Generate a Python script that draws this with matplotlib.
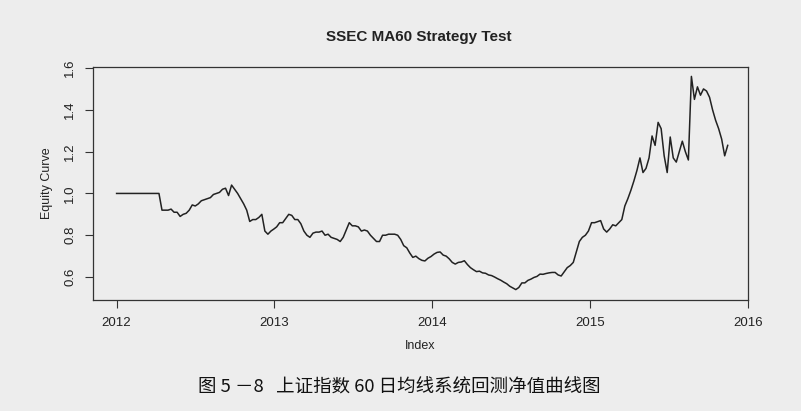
import pandas as pd
import matplotlib.pyplot as plt

# 上证指数 MA60 策略净值（周度读数）
equity = [
    1.0, 1.0, 1.0, 1.0, 1.0, 1.0, 1.0, 1.0, 1.0, 1.0,
    1.0, 1.0, 1.0, 1.0, 1.0, 0.92, 0.92, 0.92, 0.925, 0.91,
    0.91, 0.89, 0.9, 0.905, 0.92, 0.945, 0.94, 0.95, 0.965, 0.97,
    0.975, 0.98, 0.995, 1.0, 1.005, 1.02, 1.025, 0.99, 1.04, 1.02,
    1.0, 0.975, 0.95, 0.92, 0.866, 0.875, 0.875, 0.885, 0.9, 0.82,
    0.805, 0.82, 0.83, 0.84, 0.86, 0.86, 0.88, 0.9, 0.895, 0.875,
    0.875, 0.855, 0.82, 0.8, 0.79, 0.81, 0.815, 0.815, 0.82, 0.8,
    0.805, 0.79, 0.785, 0.78, 0.77, 0.79, 0.825, 0.86, 0.845, 0.845,
    0.84, 0.82, 0.825, 0.82, 0.8, 0.785, 0.77, 0.77, 0.8, 0.8,
    0.805, 0.805, 0.805, 0.8, 0.78, 0.75, 0.74, 0.715, 0.694, 0.7,
    0.688, 0.68, 0.677, 0.69, 0.698, 0.71, 0.718, 0.72, 0.705, 0.7,
    0.687, 0.67, 0.662, 0.67, 0.672, 0.678, 0.66, 0.645, 0.635, 0.626,
    0.628, 0.62, 0.618, 0.61, 0.607, 0.6, 0.592, 0.585, 0.576, 0.568,
    0.556, 0.548, 0.54, 0.55, 0.572, 0.572, 0.584, 0.59, 0.598, 0.603,
    0.614, 0.613, 0.617, 0.62, 0.622, 0.622, 0.61, 0.605, 0.625, 0.645,
    0.655, 0.67, 0.72, 0.77, 0.79, 0.8, 0.82, 0.86, 0.86, 0.865,
    0.87, 0.83, 0.815, 0.83, 0.85, 0.845, 0.86, 0.875, 0.94, 0.975,
    1.015, 1.06, 1.11, 1.17, 1.1, 1.12, 1.17, 1.275, 1.23, 1.34,
    1.31, 1.18, 1.1, 1.27, 1.17, 1.15, 1.2, 1.25, 1.2, 1.16,
    1.56, 1.45, 1.51, 1.47, 1.5, 1.49, 1.46, 1.4, 1.35, 1.31,
    1.26, 1.18, 1.23,
]
dates = pd.date_range('2012-01-01', periods=len(equity), freq='7D')
years = dates.year + (dates.dayofyear - 1) / 365.25

year_ticks = [2012, 2013, 2014, 2015, 2016]
y_ticks = [0.6, 0.8, 1.0, 1.2, 1.4, 1.6]

bg = '#ededed'
fig = plt.figure(figsize=(8.01, 4.11), dpi=100, facecolor=bg)
ax = fig.add_axes([0.116, 0.27, 0.818, 0.567], facecolor=bg)

ax.plot(years, equity, color='#222222', lw=1.1)

ax.set_xlim(2011.85, 2016.0)
ax.set_ylim(0.49, 1.605)
ax.set_xticks(year_ticks)
ax.set_yticks(y_ticks)
ax.set_xticklabels([str(y) for y in year_ticks], fontsize=9.5, family='Liberation Sans', color='#222222')
ax.set_yticklabels(['%.1f' % v for v in y_ticks], fontsize=9.5, family='Liberation Sans',
                   rotation=90, va='center', color='#222222')
ax.tick_params(direction='out', length=6, width=0.8, color='#333333', pad=6)
for s in ax.spines.values():
    s.set_color('#333333')
    s.set_linewidth(0.9)

ax.set_ylabel('Equity Curve', fontsize=9, family='Liberation Sans', color='#222222', labelpad=8)
ax.set_xlabel('Index', fontsize=9, family='Liberation Sans', color='#222222', labelpad=8)

fig.text(0.523, 1 - 37 / 411, 'SSEC MA60 Strategy Test', ha='center', va='center',
         fontsize=11, fontweight='bold', family='Liberation Sans', color='#222222')

# 图注
fig.text(198 / 801, 1 - 388 / 411, '图 5 －8   上证指数 60 日均线系统回测净值曲线图', ha='left', va='center',
         fontsize=13.3, family=['Noto Sans CJK SC', 'DejaVu Sans'], color='#111111')

plt.savefig('out.png', dpi=100, facecolor=bg)
